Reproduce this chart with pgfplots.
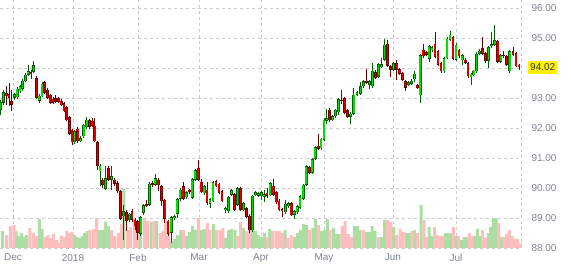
\documentclass[border=0pt]{standalone}
\usepackage{fontspec}
\setmainfont{Liberation Sans}
\usepackage{pgfplots}
\pgfplotsset{compat=1.18}
\usepackage{pgfplotstable}
\definecolor{upfill}{RGB}{0,225,0}
\definecolor{upline}{RGB}{0,95,0}
\definecolor{dnfill}{RGB}{222,0,0}
\definecolor{dnline}{RGB}{110,0,0}
\definecolor{volup}{RGB}{172,222,164}
\definecolor{voldn}{RGB}{255,190,190}
\definecolor{gridc}{RGB}{204,204,204}
\definecolor{labc}{RGB}{125,132,145}

\pgfplotstableread{
x o h l c
0.7 92.61 92.92 92.44 92.87
3.45 92.83 93.28 92.78 93.20
14.45 93.00 93.18 92.95 93.13
17.2 93.02 93.36 92.97 93.31
19.95 93.22 93.45 93.18 93.39
22.7 93.30 93.62 93.25 93.58
25.45 93.56 93.84 93.52 93.78
28.2 93.78 94.09 93.74 93.89
33.7 93.87 94.22 93.83 94.09
39.2 92.91 93.12 92.85 93.08
41.95 93.06 93.52 93.02 93.48
74.7 91.52 91.93 91.48 91.89
80.7 91.56 91.72 91.52 91.67
83.8 91.72 92.15 91.68 92.11
86.8 92.03 92.36 91.98 92.28
100 90.56 90.80 90.06 90.74
105.6 89.97 90.72 89.94 90.33
111.4 90.28 90.72 89.94 90.39
123.4 89.06 89.44 88.28 89.22
129.3 88.94 89.16 88.88 89.14
140.8 88.47 89.06 88.39 89.03
143.7 89.17 89.46 89.10 89.43
149.4 89.44 90.20 89.40 90.14
155.2 90.11 90.47 90.06 90.33
171.2 88.50 89.06 88.17 89.03
174.2 89.00 89.10 88.95 89.06
177.2 89.14 89.66 89.00 89.63
180.1 89.63 90.00 89.58 89.94
186.2 89.69 89.90 89.62 89.86
192.2 89.67 90.34 89.62 90.30
195.2 90.28 90.62 90.24 90.59
204.1 89.82 90.10 89.78 90.06
209.9 89.48 89.66 89.33 89.63
212.9 89.56 90.22 89.52 90.19
225.2 89.26 89.36 89.18 89.33
228.3 89.22 89.74 89.18 89.70
231.3 89.78 89.96 89.74 89.92
237.3 89.44 90.04 89.40 90.00
243.3 89.26 89.54 89.22 89.50
252.3 88.59 89.78 88.55 89.74
255.3 89.76 89.90 89.72 89.86
258.3 89.74 89.88 89.70 89.83
261.3 89.72 89.90 89.60 89.86
264.2 89.70 89.92 89.52 89.80
270.2 89.76 90.20 89.72 90.17
285.4 89.19 89.60 89.15 89.48
288.3 89.39 89.53 89.35 89.50
294.2 89.10 89.26 88.97 89.22
297.1 89.19 89.43 89.15 89.39
300 89.33 89.76 89.29 89.72
303.1 89.63 90.15 89.59 90.11
306.2 90.11 90.76 90.07 90.72
312.2 90.50 91.01 90.46 90.97
315.2 90.97 91.41 90.93 91.37
321 91.32 91.68 91.28 91.64
323.9 91.61 92.32 91.57 92.28
326.8 92.24 92.64 92.14 92.33
332.6 92.26 92.43 92.22 92.39
335.5 92.39 92.65 92.35 92.61
338.4 92.52 93.01 92.45 92.97
350.6 92.37 92.52 92.14 92.48
353.8 92.48 93.33 92.44 93.11
357 93.11 93.23 93.07 93.19
360.3 93.14 93.52 93.10 93.39
363.5 93.39 93.60 93.35 93.56
369.6 93.44 93.60 93.30 93.56
372.6 93.39 94.17 93.35 93.91
378.5 93.70 94.18 93.66 94.14
381.4 94.03 94.35 93.99 94.14
384.4 94.28 94.98 94.24 94.78
393.7 93.94 94.21 93.90 94.17
408.6 93.44 93.57 93.40 93.53
411.4 93.48 93.62 93.44 93.58
414.3 93.63 93.90 93.55 93.81
420.2 93.09 94.48 92.83 94.44
429.1 94.30 94.78 94.20 94.74
432 94.59 94.73 94.55 94.69
443.9 93.89 94.37 93.83 94.33
446.9 94.33 95.02 94.29 94.98
449.9 94.94 95.22 94.90 95.11
455.9 94.28 94.82 94.24 94.78
462.2 94.26 94.46 94.10 94.42
470.9 93.69 93.85 93.42 93.81
473.8 93.76 93.95 93.72 93.91
476.6 93.89 94.52 93.85 94.48
479.4 94.47 94.62 94.43 94.58
488.5 94.24 94.74 94.00 94.70
491.7 94.72 95.20 94.68 94.80
494.8 94.78 95.44 94.74 94.94
500.8 94.20 94.48 94.16 94.44
509.8 93.89 94.60 93.85 94.56
}\up

\pgfplotstableread{
x o h l c
6.2 93.17 93.39 92.78 93.06
8.95 93.13 93.50 92.72 93.00
11.7 92.91 93.28 92.56 92.78
30.95 93.87 93.94 93.64 93.80
36.45 93.67 93.72 92.96 93.00
44.7 93.52 93.56 93.14 93.17
47.45 93.28 93.32 92.96 93.00
50.2 93.11 93.15 92.80 92.83
52.95 92.98 93.04 92.80 92.83
55.7 93.00 93.11 92.84 92.87
58.45 93.00 93.04 92.84 92.87
61.2 92.91 92.96 92.72 92.76
63.95 92.83 92.87 92.52 92.56
66.7 92.70 92.74 92.22 92.26
69.3 92.37 92.40 91.76 91.81
72 91.92 91.96 91.44 91.52
77.8 91.98 92.04 91.50 91.56
89.6 92.26 92.30 91.98 92.03
92.2 92.22 92.34 92.02 92.06
94.8 92.08 92.33 91.52 91.56
97.3 91.52 91.56 90.60 90.72
102.8 90.28 90.35 90.00 90.11
108.5 90.67 90.72 90.24 90.28
114.4 90.28 90.33 90.08 90.14
117.4 90.17 90.22 89.85 89.89
120.4 89.89 89.93 88.92 88.98
126.4 89.19 89.28 88.56 88.89
132.1 89.23 89.30 88.88 88.93
135 88.93 89.00 88.60 88.72
137.9 88.89 88.95 88.28 88.50
146.5 89.47 89.60 89.38 89.41
152.3 90.17 90.22 90.02 90.09
158.1 90.28 90.33 89.90 90.09
161.6 90.06 90.10 89.40 89.56
164.8 89.61 89.65 88.83 88.98
168 88.91 88.95 88.40 88.48
183.2 90.06 90.19 89.60 89.63
189.1 89.92 89.98 89.80 89.86
198.2 90.68 90.92 90.24 90.28
201.2 90.21 90.30 89.82 89.86
207 89.94 90.20 89.45 89.50
215.9 90.22 90.28 90.02 90.06
218.9 90.14 90.18 89.79 89.83
221.9 89.89 89.93 89.52 89.56
234.3 89.80 89.84 89.24 89.28
240.3 90.00 90.04 89.24 89.28
246.3 89.33 89.37 88.99 89.03
249.3 89.08 89.12 88.50 88.59
267 89.84 90.00 89.68 89.74
273.2 90.08 90.30 89.74 89.78
276.1 89.86 89.90 89.48 89.52
279 89.58 89.62 89.22 89.26
281.9 89.30 89.34 89.05 89.22
291.2 89.50 89.54 89.06 89.10
309.2 90.70 90.74 90.46 90.50
318.1 91.41 91.81 91.26 91.30
329.7 92.61 92.66 92.20 92.26
341.3 92.94 93.28 92.80 92.89
344.6 93.00 93.05 92.46 92.50
347.6 92.61 92.65 92.33 92.37
366.6 93.58 93.97 93.46 93.50
375.6 93.86 93.92 93.63 93.67
387.4 94.81 94.94 94.04 94.08
390.5 94.06 94.10 93.70 93.94
396.8 94.17 94.28 93.61 93.94
399.8 93.97 94.01 93.77 93.81
402.7 93.83 93.87 93.57 93.61
405.6 93.56 93.60 93.25 93.33
417.2 93.44 93.48 93.29 93.33
423.2 94.61 94.81 94.35 94.39
426.1 94.52 94.56 94.40 94.44
434.9 94.81 95.20 94.33 94.37
437.9 94.56 94.60 94.07 94.11
440.9 94.17 94.21 93.85 93.89
452.9 95.03 95.07 94.26 94.30
459 94.61 94.65 94.35 94.39
465.1 94.28 94.32 94.13 94.17
468 94.17 94.21 93.68 93.72
482.3 94.67 95.02 94.43 94.47
485.3 94.50 94.54 94.18 94.22
497.8 94.91 94.95 94.16 94.20
503.7 94.44 94.56 94.35 94.39
506.7 94.39 94.43 94.07 94.11
512.9 94.56 94.70 94.40 94.44
515.9 94.50 94.54 94.02 94.06
518.9 94.11 94.15 93.95 94.02
}\down

\pgfplotstableread{
x v
2.5 17
16.2 17
18.7 12
21.3 15
23.8 11
26.7 13
39.3 29
42.2 19
74.7 13
77.2 11
79.7 10
82.2 12
84.7 15
87.2 17
99.7 18
103 18
105.5 26
108.3 22
123.8 59
140.5 20
151 26
156.7 27
171.3 6
174.3 9
177.7 13
180.8 18
186.7 12
189.5 16
192.3 22
195.3 18
201.3 18
204.3 19
213.3 24
225.7 10
228.7 18
231.7 19
235 18
243.3 20
252.7 24
255.5 17
258 13
261 11
264.3 15
269.7 19
285 18
294.3 11
297.7 15
300.7 18
303.7 24
306.7 23
312.8 20
315.5 29
321.7 17
324.7 18
327.3 29
333.3 20
336.3 14
339.2 14
354.3 22
357.3 22
360.2 18
366.3 16
369.2 16
372 22
375 17
381.7 11
384.7 28
393.7 21
406 15
409.3 15
414.7 18
421 43
429.2 21
432 12
445.3 15
448 15
450.7 15
456 12
461.3 8
464 11
466.7 11
474.7 12
477.3 19
480 12
488 15
490.7 21
493.3 30
496 30
501.3 11
}\volup

\pgfplotstableread{
x v
6.7 13
10.5 22
13.8 23
30 20
33.3 15
36.3 12
45 11
47.8 13
50.3 10
53.3 14
56.3 8
59.2 5
61.3 12
64.2 11
67 17
69.7 15
72.2 16
90 18
93.3 19
96.7 30
111.7 18
115 12
118.3 15
121.3 24
127.7 18
131 21
134.7 30
137.7 18
144.7 30
147.7 27
153.8 27
160 15
162.8 17
165.7 29
168.7 26
183.7 18
198.3 30
207.3 25
210.2 18
216.7 18
220 18
222.8 20
238 12
240.5 26
246.3 17
249.3 18
267.2 11
272.7 17
276 17
279.3 17
282.5 15
287.7 10
291 13
309.7 18
318.3 23
330.2 18
342 22
345 27
348.3 14
351.3 11
363.3 18
378.3 11
387.7 28
390.8 26
396.7 13
400 19
403 16
412.2 17
417.7 15
424 28
426.5 11
434.7 21
437.3 13
440 12
442.7 12
453.3 21
458.7 12
469.3 15
472 12
482.7 18
485.3 10
498.7 25
504 11
506.7 14
509.3 18
512 12
514.7 9
517.3 9
520 5
}\voldn

\begin{document}
\begin{tikzpicture}
\path[use as bounding box] (0,0) rectangle (571pt,267pt);
\begin{axis}[
  at={(0pt,19pt)}, anchor=south west,
  width=522pt, height=248pt, scale only axis,
  xmin=0, xmax=522, ymin=88, ymax=96.27,
  axis line style={draw=none},
  major tick length=0pt,
  xtick={13,73,138,199,261,324,393,456},
  xticklabels={Dec,2018,Feb,Mar,Apr,May,Jun,Jul},
  extra x ticks={521.5}, extra x tick labels={},
  ytick={88,89,90,91,92,93,94,95,96},
  yticklabels={88.00,89.00,90.00,91.00,92.00,93.00,,95.00,96.00},
  yticklabel pos=right,
  grid=major,
  grid style={gridc, line width=0.8pt, dash pattern=on 3pt off 3pt},
  ticklabel style={font=\fontsize{10}{12}\selectfont, text=labc},
  xticklabel style={yshift=-2.5pt},
  yticklabel style={xshift=6pt},
  extra y ticks={94.02}, extra y tick labels={94.02},
  extra y tick style={grid=none, yticklabel style={fill=yellow, text=black!80, inner xsep=2pt, inner ysep=3pt}},
]
% volume
\addplot[ybar, bar width=3pt, bar shift=0pt, fill=volup, draw=none, forget plot]
  table[x=x, y expr=88+\thisrow{v}/30] {\volup};
\addplot[ybar, bar width=3pt, bar shift=0pt, fill=voldn, draw=none, forget plot]
  table[x=x, y expr=88+\thisrow{v}/30] {\voldn};
% wicks
\addplot[draw=none, mark=none, forget plot, error bars/.cd, y dir=minus, y explicit, error mark=none,
  error bar style={line width=0.8pt, draw=upline}]
  table[x=x, y=h, y error expr={\thisrow{h}-\thisrow{l}}] {\up};
\addplot[draw=none, mark=none, forget plot, error bars/.cd, y dir=minus, y explicit, error mark=none,
  error bar style={line width=0.8pt, draw=dnline}]
  table[x=x, y=h, y error expr={\thisrow{h}-\thisrow{l}}] {\down};
% bodies outline
\addplot[draw=none, mark=none, forget plot, error bars/.cd, y dir=minus, y explicit, error mark=none,
  error bar style={line width=2.8pt, draw=upline}]
  table[x=x, y=c, y error expr={max(\thisrow{c}-\thisrow{o},0.05)}] {\up};
\addplot[draw=none, mark=none, forget plot, error bars/.cd, y dir=minus, y explicit, error mark=none,
  error bar style={line width=2.8pt, draw=dnline}]
  table[x=x, y=o, y error expr={max(\thisrow{o}-\thisrow{c},0.05)}] {\down};
% bodies fill
\addplot[draw=none, mark=none, forget plot, error bars/.cd, y dir=minus, y explicit, error mark=none,
  error bar style={line width=1.5pt, draw=upfill}]
  table[x=x, y expr=\thisrow{c}-0.022, y error expr={max(\thisrow{c}-\thisrow{o}-0.044,0)}] {\up};
\addplot[draw=none, mark=none, forget plot, error bars/.cd, y dir=minus, y explicit, error mark=none,
  error bar style={line width=1.5pt, draw=dnfill}]
  table[x=x, y expr=\thisrow{o}-0.022, y error expr={max(\thisrow{o}-\thisrow{c}-0.044,0)}] {\down};
\end{axis}
\end{tikzpicture}
\end{document}
